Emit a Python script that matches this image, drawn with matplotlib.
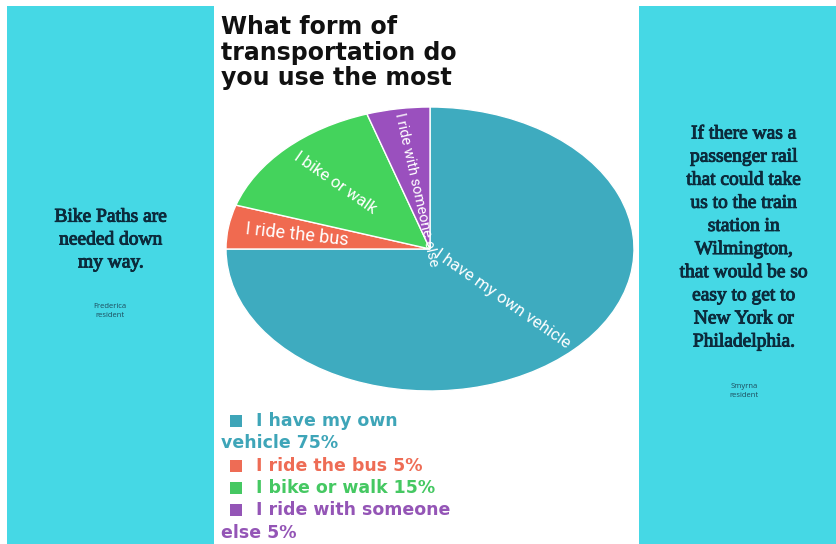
import textwrap

import matplotlib.pyplot as plt
import matplotlib.patheffects as pe
import numpy as np
from matplotlib.patches import Rectangle

W, H = 836, 544

# survey result
CATEGORIES = ["I have my own vehicle", "I ride the bus", "I bike or walk", "I ride with someone else"]
PERCENTS = [75, 5, 15, 5]
COLORS = ["#3eabbf", "#f06a50", "#44d35c", "#9a50be"]
LEGEND_COLORS = ["#3ea5b8", "#ee6c55", "#45c862", "#9455b6"]

TITLE = "What form of\ntransportation do\nyou use the most"
LEFT_QUOTE = "Bike Paths are\nneeded down\nmy way."
LEFT_WHO = "Frederica\nresident"
RIGHT_QUOTE = ("If there was a\npassenger rail\nthat could take\nus to the train\nstation in\n"
               "Wilmington,\nthat would be so\neasy to get to\nNew York or\nPhiladelphia.")
RIGHT_WHO = "Smyrna\nresident"

PANEL = "#45d8e5"
INK = "#0c2b3c"


def fx(px):
    return px / W


def fy(py):
    return 1 - py / H


fig = plt.figure(figsize=(W / 100, H / 100), dpi=100)
fig.patch.set_facecolor("white")

# side panels
fig.patches.append(Rectangle((fx(7), 0), fx(214) - fx(7), fy(6), transform=fig.transFigure,
                             facecolor=PANEL, edgecolor="none", zorder=0))
fig.patches.append(Rectangle((fx(639), 0), 1 - fx(639), fy(6), transform=fig.transFigure,
                             facecolor=PANEL, edgecolor="none", zorder=0))

# pie (stretched into an ellipse)
left, right, top, bottom = 226, 634, 107, 391
ax = fig.add_axes([fx(left), fy(bottom), fx(right) - fx(left), fy(top) - fy(bottom)])
wedges, _ = ax.pie(PERCENTS, colors=COLORS, startangle=90, counterclock=False,
                   wedgeprops=dict(edgecolor="white", linewidth=1.0))
ax.set_aspect("auto")
ax.set_xlim(-1, 1)
ax.set_ylim(-1, 1)
ax.axis("off")

sx = (right - left) / 2
sy = (bottom - top) / 2
label_r = [0.5, 0.66, 0.66, 0.42]
label_size = [12, 13, 12, 10.5]
for w, cat, r, fs in zip(wedges, CATEGORIES, label_r, label_size):
    th = np.deg2rad((w.theta1 + w.theta2) / 2)
    ang = np.degrees(np.arctan2(sy * np.sin(th), sx * np.cos(th)))
    rot = ang - 180 if (ang > 90 or ang < -90) else ang
    ax.text(r * np.cos(th), r * np.sin(th), cat, rotation=rot, rotation_mode="anchor",
            ha="center", va="center", color="white", fontsize=fs, family="Roboto")

# title
fig.text(fx(221), fy(15), TITLE, ha="left", va="top", fontsize=17, weight="bold",
         family="DejaVu Sans", color="#111111", linespacing=1.08)

# legend
k = 0
for cat, pct, col in zip(CATEGORIES, PERCENTS, LEGEND_COLORS):
    lines = textwrap.wrap(f"{cat} {pct}%", width=19)
    y0 = 421 + k * 22.3
    fig.patches.append(Rectangle((fx(230), fy(y0 + 6)), fx(12), 12 / H, transform=fig.transFigure,
                                 facecolor=col, edgecolor="none"))
    for i, line in enumerate(lines):
        x = 256 if i == 0 else 221
        fig.text(fx(x), fy(y0 + i * 22.3), line, ha="left", va="center", fontsize=12.5,
                 weight="bold", family="DejaVu Sans", color=col)
    k += len(lines)

# quotes
heavy = [pe.withStroke(linewidth=0.7, foreground=INK)]
fig.text(fx(111), fy(240), LEFT_QUOTE, ha="center", va="center", fontsize=14,
         family="Liberation Serif", color=INK, linespacing=1.45, path_effects=heavy)
fig.text(fx(110), fy(311), LEFT_WHO, ha="center", va="center", fontsize=5.5,
         family="Open Sans", color="#1d4b5c", linespacing=1.3)
fig.text(fx(744), fy(238), RIGHT_QUOTE, ha="center", va="center", fontsize=14,
         family="Liberation Serif", color=INK, linespacing=1.47, path_effects=heavy)
fig.text(fx(744), fy(391), RIGHT_WHO, ha="center", va="center", fontsize=5.5,
         family="Open Sans", color="#1d4b5c", linespacing=1.3)

fig.savefig("out.png", dpi=100, facecolor=fig.get_facecolor())
